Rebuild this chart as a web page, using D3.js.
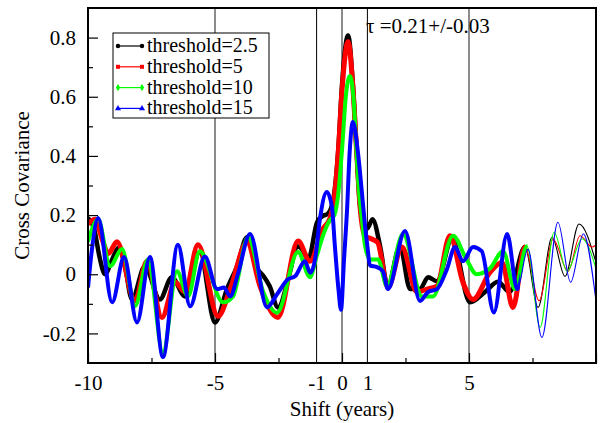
<!DOCTYPE html>
<html>
<head>
<meta charset="utf-8">
<script src="https://cdn.jsdelivr.net/npm/d3@7"></script>
<style>
  body { margin: 0; background: #fff; }
  svg { display: block; }
</style>
</head>
<body>
<div id="chart"></div>
<script>
// cross covariance vs shift
var th25 = [[-10,0.19],[-9.75,0.15],[-9.55,0.06],[-9.33,0.0],[-9.05,0.05],[-8.8,0.09],[-8.55,0.03],[-8.27,-0.085],[-7.76,0.027],[-7.17,-0.085],[-6.7,-0.01],[-6.18,-0.075],[-5.6,0.075],[-5.0,-0.163],[-4.53,-0.05],[-4.13,0.027],[-3.74,0.125],[-3.35,0.02],[-3.1,-0.005],[-2.85,-0.04],[-2.52,-0.112],[-2.05,0.007],[-1.77,0.095],[-1.57,0.085],[-1.33,0.05],[-0.98,0.176],[-0.75,0.197],[-0.55,0.205],[-0.35,0.25],[-0.14,0.43],[0.0,0.64],[0.24,0.807],[0.43,0.64],[0.58,0.41],[0.7,0.24],[0.85,0.17],[1.0,0.155],[1.2,0.186],[1.5,0.095],[1.8,-0.04],[2.28,0.095],[2.68,-0.05],[3.07,-0.05],[3.39,-0.01],[3.74,-0.024],[4.33,0.12],[5.04,-0.095],[5.63,-0.06],[6.14,-0.025],[6.6,-0.06],[7.2,0.092],[7.72,-0.112],[8.27,0.125],[8.78,-0.007],[9.33,0.17],[10,0.04]];
var th5 = [[-10,0.17],[-9.72,0.186],[-9.45,0.12],[-9.2,0.07],[-8.86,0.11],[-8.15,-0.09],[-7.68,0.044],[-7.09,-0.146],[-6.57,-0.027],[-6.18,-0.06],[-5.67,0.1],[-4.88,-0.142],[-4.4,-0.05],[-3.74,0.108],[-3.23,-0.04],[-2.52,-0.146],[-1.73,0.112],[-1.26,0.044],[-0.75,0.153],[-0.47,0.19],[-0.3,0.26],[-0.14,0.42],[0.0,0.62],[0.24,0.786],[0.43,0.63],[0.58,0.41],[0.7,0.24],[0.9,0.13],[1.15,0.12],[1.4,0.108],[1.81,-0.045],[2.36,0.092],[2.95,-0.06],[3.35,-0.05],[3.74,-0.04],[4.25,0.13],[4.76,-0.027],[5.16,-0.085],[5.83,0.007],[6.3,0.04],[6.73,-0.112],[7.2,0.092],[7.76,-0.09],[8.31,0.118],[8.9,0.01],[9.37,0.13],[9.84,0.092],[10,0.1]];
var th10 = [[-10,0.11],[-9.6,0.186],[-9.13,0.027],[-8.66,0.085],[-8.15,-0.108],[-7.64,0.05],[-7.05,-0.265],[-6.5,0.01],[-6.06,-0.075],[-5.6,0.078],[-4.68,-0.095],[-4.29,-0.075],[-3.7,0.125],[-3.1,-0.06],[-2.56,-0.13],[-1.73,0.075],[-1.26,-0.01],[-1.0,0.06],[-0.75,0.13],[-0.5,0.18],[-0.3,0.2],[-0.15,0.27],[0.0,0.42],[0.15,0.6],[0.31,0.67],[0.45,0.6],[0.55,0.45],[0.65,0.3],[0.78,0.19],[0.9,0.1],[1.1,0.05],[1.42,0.05],[1.77,-0.04],[2.4,0.136],[3.15,-0.075],[3.58,-0.075],[4.37,0.13],[4.9,0.05],[5.3,0.0],[5.83,0.02],[6.34,0.078],[6.81,-0.05],[7.28,0.095],[7.8,-0.18],[8.35,0.142],[8.86,0.01],[9.45,0.12],[10,0.02]];
var th15 = [[-10,-0.045],[-9.85,0.08],[-9.6,0.19],[-9.05,-0.095],[-8.58,0.058],[-8.07,-0.163],[-7.56,0.058],[-7.05,-0.28],[-6.46,0.1],[-5.98,-0.108],[-5.4,0.06],[-4.92,-0.05],[-4.65,-0.045],[-4.4,-0.075],[-4.1,0.0],[-3.62,0.136],[-2.95,-0.112],[-2.56,-0.068],[-2.13,-0.017],[-1.85,-0.007],[-1.46,0.044],[-1.25,0.005],[-1.06,0.05],[-0.87,0.186],[-0.6,0.278],[-0.4,0.23],[-0.28,0.095],[-0.14,-0.05],[-0.04,-0.12],[0.08,0.05],[0.2,0.22],[0.3,0.41],[0.43,0.515],[0.63,0.41],[0.78,0.28],[0.9,0.17],[1.0,0.095],[1.1,0.03],[1.38,0.024],[1.61,0.01],[1.81,-0.05],[2.48,0.146],[3.07,-0.09],[3.39,-0.06],[3.74,-0.05],[4.13,0.017],[4.45,0.092],[4.76,0.044],[5.16,0.092],[5.5,0.078],[5.98,-0.129],[6.5,0.136],[6.9,-0.05],[7.32,0.085],[7.87,-0.214],[8.5,0.176],[9.0,-0.027],[9.5,0.136],[10,-0.09]];

var seriesNames = ["threshold=2.5", "threshold=5", "threshold=10", "threshold=15"];
var xTickLabels = [-10, -5, -1, 0, 1, 5];
var yTickLabels = [0.8, 0.6, 0.4, 0.2, 0, -0.2];
var vLines = [-5, -1, 0, 1, 5];
var tauText = "\u03c4 =0.21+/-0.03";

var W = 600, H = 423;
var margin = {top: 8, right: 4, bottom: 60, left: 88};
var font = "'Liberation Serif', 'Times New Roman', serif";

var svg = d3.select("#chart").append("svg")
    .attr("width", W).attr("height", H);

var x = d3.scaleLinear().domain([-10, 10]).range([margin.left, W - margin.right]);
var y = d3.scaleLinear().domain([-0.3, 0.9]).range([H - margin.bottom, margin.top]);

var series = [
  {name: seriesNames[0], data: th25, color: "#000", band: 4.5, markEnd: 7.2, shape: "circle"},
  {name: seriesNames[1], data: th5, color: "#f00", band: 5, markEnd: 7.2, shape: "square"},
  {name: seriesNames[2], data: th10, color: "#0f0", band: 4, markEnd: 7.3, shape: "diamond"},
  {name: seriesNames[3], data: th15, color: "#00f", band: 4, markEnd: 7.0, shape: "triangle"}
];

// vertical reference lines
svg.selectAll(".vline").data(vLines).enter().append("line")
    .attr("x1", d => x(d)).attr("x2", d => x(d))
    .attr("y1", y(0.9)).attr("y2", y(-0.3))
    .attr("stroke", d => (d == -1 || d == 1) ? "#000" : "#666")
    .attr("stroke-width", d => (d == -1 || d == 1) ? 1 : 1.5);

var defs = svg.append("defs");
defs.append("clipPath").attr("id", "plotclip").append("rect")
    .attr("x", x(-10)).attr("y", y(0.9))
    .attr("width", x(10) - x(-10)).attr("height", y(-0.3) - y(0.9));

var line = d3.line()
    .x(d => x(d[0]))
    .y(d => y(d[1]))
    .curve(d3.curveMonotoneX);

var plot = svg.append("g").attr("clip-path", "url(#plotclip)");

series.forEach(function(s, i) {
  defs.append("clipPath").attr("id", "band" + i).append("rect")
      .attr("x", x(-10)).attr("y", 0)
      .attr("width", x(s.markEnd) - x(-10)).attr("height", H);
  // thin line over full range
  plot.append("path")
      .attr("d", line(s.data))
      .attr("fill", "none")
      .attr("stroke", s.color)
      .attr("stroke-width", 1.1);
  // dense markers -> thick band where they were drawn
  plot.append("g").attr("clip-path", "url(#band" + i + ")")
    .append("path")
      .attr("d", line(s.data))
      .attr("fill", "none")
      .attr("stroke", s.color)
      .attr("stroke-width", s.band)
      .attr("stroke-linejoin", "round");
});

// frame
svg.append("rect")
    .attr("x", x(-10)).attr("y", y(0.9))
    .attr("width", x(10) - x(-10)).attr("height", y(-0.3) - y(0.9))
    .attr("fill", "none").attr("stroke", "#000").attr("stroke-width", 2);

// y axis (inward ticks)
var yAxis = svg.append("g")
    .attr("transform", "translate(" + x(-10) + ",0)")
    .call(d3.axisLeft(y).tickValues(yTickLabels).tickSize(-10).tickPadding(12)
      .tickFormat(d => String(d)));
yAxis.append("g").call(d3.axisLeft(y).tickValues([0.7, 0.5, 0.3, 0.1, -0.1]).tickSize(-5).tickFormat(""));
yAxis.selectAll(".domain").remove();
yAxis.selectAll("line").attr("stroke", "#000").attr("stroke-width", 1.2);
yAxis.selectAll("text").attr("font-family", font).attr("font-size", 21).attr("fill", "#000");

// x axis
var xAxis = svg.append("g")
    .attr("transform", "translate(0," + y(-0.3) + ")")
    .call(d3.axisBottom(x).tickValues(xTickLabels).tickSize(0).tickPadding(12)
      .tickFormat(d => String(d)));
xAxis.append("g").call(d3.axisBottom(x).tickValues([-10, -5, 0, 5, 10]).tickSize(-10).tickFormat(""));
xAxis.append("g").call(d3.axisBottom(x).tickValues([-7.5, -2.5, 2.5, 7.5]).tickSize(-5).tickFormat(""));
xAxis.selectAll(".domain").remove();
xAxis.selectAll("line").attr("stroke", "#000").attr("stroke-width", 1.2);
xAxis.selectAll("text").attr("font-family", font).attr("font-size", 21).attr("fill", "#000");

// axis titles
svg.append("text")
    .attr("x", (x(-10) + x(10)) / 2).attr("y", 416)
    .attr("text-anchor", "middle")
    .attr("font-family", font).attr("font-size", 21)
    .text("Shift (years)");
svg.append("text")
    .attr("transform", "translate(29," + ((y(0.9) + y(-0.3)) / 2) + ") rotate(-90)")
    .attr("text-anchor", "middle")
    .attr("font-family", font).attr("font-size", 21)
    .text("Cross Covariance");

// annotation
svg.append("text")
    .attr("x", 366).attr("y", 33)
    .attr("font-family", font).attr("font-size", 21)
    .text(tauText);

// legend
var legend = svg.append("g");
legend.append("rect")
    .attr("x", 113).attr("y", 33).attr("width", 156).attr("height", 85)
    .attr("fill", "#fff").attr("stroke", "#000").attr("stroke-width", 1);

var symbols = {circle: d3.symbolCircle, square: d3.symbolSquare, diamond: d3.symbolDiamond, triangle: d3.symbolTriangle};
series.forEach(function(s, i) {
  var ly = 46 + i * 20.8;
  var row = legend.append("g");
  row.append("line")
      .attr("x1", 118).attr("x2", 142).attr("y1", ly).attr("y2", ly)
      .attr("stroke", s.color).attr("stroke-width", 1.2);
  [118, 142].forEach(function(px) {
    row.append("path")
        .attr("transform", "translate(" + px + "," + ly + ")")
        .attr("d", d3.symbol().type(symbols[s.shape]).size(16)())
        .attr("fill", s.color);
  });
  row.append("text")
      .attr("x", 147).attr("y", ly + 6)
      .attr("font-family", font).attr("font-size", 20)
      .text(s.name);
});
</script>
</body>
</html>
